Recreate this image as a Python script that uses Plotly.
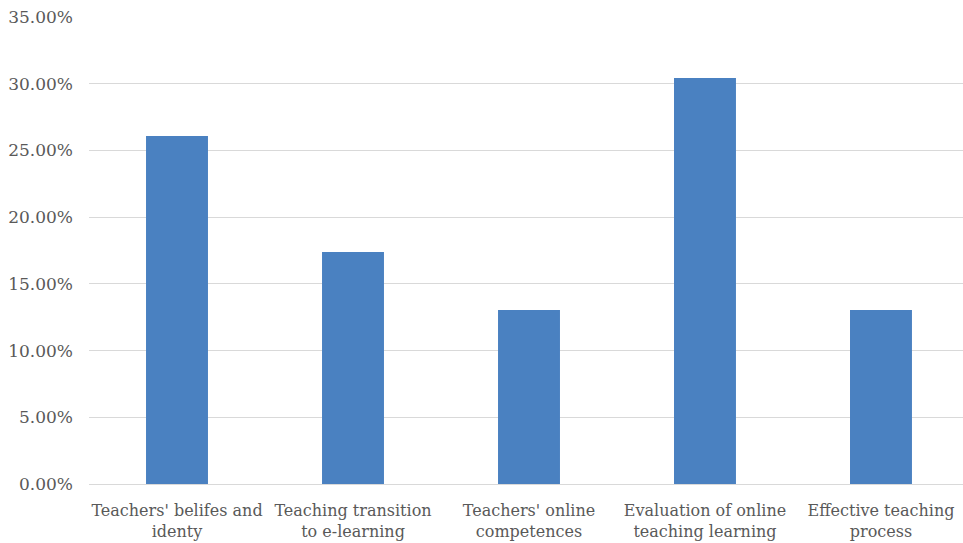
import plotly.graph_objects as go

categories = ["Teachers' belifes and<br>identy", "Teaching transition<br>to e-learning",
              "Teachers' online<br>competences", "Evaluation of online<br>teaching learning",
              "Effective teaching<br>process"]
values = [0.2609, 0.1739, 0.1304, 0.3043, 0.1304]
tick_vals = [0, 0.05, 0.10, 0.15, 0.20, 0.25, 0.30, 0.35]

fig = go.Figure(go.Bar(x=categories, y=values, marker_color="#4a81c1",
                       marker_line_width=0, hoverinfo="skip"))
fig.update_layout(
    width=963, height=543,
    margin=dict(l=89, r=0, t=17, b=59),
    paper_bgcolor="white", plot_bgcolor="white",
    bargap=0.648, showlegend=False,
    font=dict(family="DejaVu Serif", size=16, color="#595959"),
)
fig.update_yaxes(range=[0, 0.35], tickvals=tick_vals, tickformat=".2%",
                 showgrid=True, gridcolor="#d9d9d9", gridwidth=1,
                 zeroline=False, showline=False, ticks="",
                 ticklabelstandoff=15, tickfont=dict(size=17))
fig.update_xaxes(range=[-0.5, 4.466], showline=True, linecolor="#d9d9d9", linewidth=1,
                 ticks="", ticklabelstandoff=12, tickfont=dict(size=16))
fig.write_html("out.html")
